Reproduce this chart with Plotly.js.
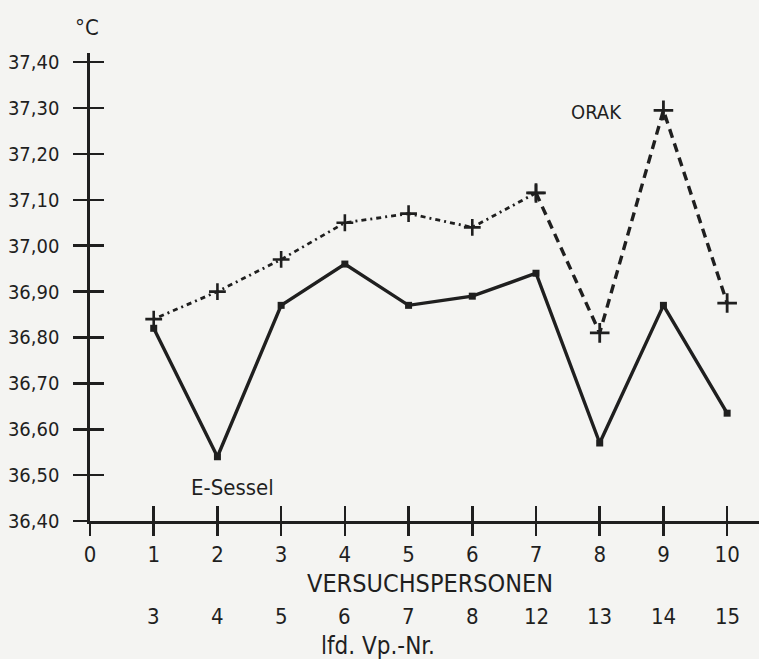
<!DOCTYPE html>
<html>
<head>
<meta charset="utf-8">
<script src="https://cdn.plot.ly/plotly-3.0.1.min.js"></script>
<style>
  html, body { margin: 0; padding: 0; background: #f4f4f2; }
  #chart { width: 759px; height: 659px; }
</style>
</head>
<body>
<div id="chart"></div>
<script>
// ---- data ----
const versuchspersonen = [1, 2, 3, 4, 5, 6, 7, 8, 9, 10];
const vpNr = ['3', '4', '5', '6', '7', '8', '12', '13', '14', '15'];
const eSessel = [36.82, 36.54, 36.87, 36.96, 36.87, 36.89, 36.94, 36.57, 36.87, 36.635];
const orak = [36.84, 36.90, 36.97, 37.05, 37.07, 37.04, 37.115, 36.81, 37.295, 36.875];
const yTicks = [36.40, 36.50, 36.60, 36.70, 36.80, 36.90, 37.00, 37.10, 37.20, 37.30, 37.40];
const xTicks = [0, 1, 2, 3, 4, 5, 6, 7, 8, 9, 10];

const ink = '#1f1f1f';
const FONT = 'DejaVu Sans Condensed, DejaVu Sans, sans-serif';

const splitIdx = 6; // ORAK: dotted up to Vp 7, dashed afterwards
const traces = [
  {
    x: versuchspersonen, y: eSessel, type: 'scatter', mode: 'lines+markers',
    line: { color: ink, width: 3.4 },
    marker: { symbol: 'square', size: 7, color: ink },
    hoverinfo: 'skip', showlegend: false
  },
  {
    x: versuchspersonen.slice(0, splitIdx + 1), y: orak.slice(0, splitIdx + 1),
    type: 'scatter', mode: 'lines+markers',
    line: { color: ink, width: 2.8, dash: '2px,4px,5px,4px' },
    marker: { symbol: 'cross-thin', size: 12, line: { color: ink, width: 2.6 } },
    hoverinfo: 'skip', showlegend: false
  },
  {
    x: versuchspersonen.slice(splitIdx), y: orak.slice(splitIdx),
    type: 'scatter', mode: 'lines+markers',
    line: { color: ink, width: 3.4, dash: '9px,6px' },
    marker: { symbol: 'cross-thin', size: 14, line: { color: ink, width: 2.8 } },
    hoverinfo: 'skip', showlegend: false
  },
  {
    x: [versuchspersonen[0]], y: [eSessel[0]], xaxis: 'x2', yaxis: 'y2',
    type: 'scatter', mode: 'markers', opacity: 0, hoverinfo: 'skip', showlegend: false
  }
];

const xr = [0, 10.5];
const yr = [36.4, 37.42];

const annotations = [];
versuchspersonen.forEach((v, i) => {
  annotations.push({
    x: v, y: -0.205, xref: 'x', yref: 'paper', text: vpNr[i], showarrow: false,
    font: { family: FONT, size: 22, color: ink }, xanchor: 'center', yanchor: 'middle'
  });
});
annotations.push(
  { x: 5.34, y: -0.1325, xref: 'x', yref: 'paper', text: 'VERSUCHSPERSONEN', showarrow: false,
    font: { family: FONT, size: 25, color: ink }, xanchor: 'center', yanchor: 'middle' },
  { x: 4.52, y: -0.268, xref: 'x', yref: 'paper', text: 'lfd. Vp.-Nr.', showarrow: false,
    font: { family: FONT, size: 24, color: ink }, xanchor: 'center', yanchor: 'middle' },
  { x: -0.004, y: 1.055, xref: 'paper', yref: 'paper', text: '°C', showarrow: false,
    font: { family: FONT, size: 22, color: ink }, xanchor: 'center', yanchor: 'middle' },
  { x: 2.24, y: 36.474, xref: 'x', yref: 'y', text: 'E-Sessel', showarrow: false,
    font: { family: FONT, size: 22, color: ink }, xanchor: 'center', yanchor: 'middle' },
  { x: 7.95, y: 37.291, xref: 'x', yref: 'y', text: 'ORAK', showarrow: false,
    font: { family: FONT, size: 20, color: ink }, xanchor: 'center', yanchor: 'middle' }
);

const layout = {
  width: 759, height: 659,
  margin: { l: 90, r: 0, t: 53, b: 138 },
  paper_bgcolor: '#f4f4f2', plot_bgcolor: '#f4f4f2',
  showlegend: false,
  xaxis: {
    range: xr, showgrid: false, zeroline: false,
    showline: true, linecolor: ink, linewidth: 2.6,
    tickmode: 'array', tickvals: xTicks, ticktext: xTicks.map(String),
    ticks: 'outside', ticklen: 12, tickwidth: 2.6, tickcolor: ink,
    ticklabelstandoff: 0,
    tickfont: { family: FONT, size: 22, color: ink }
  },
  yaxis: {
    range: yr, showgrid: false, zeroline: false,
    showline: true, linecolor: ink, linewidth: 2.6,
    tickmode: 'array', tickvals: yTicks, ticktext: yTicks.map(v => v.toFixed(2).replace('.', ',')),
    ticks: 'outside', ticklen: 14, tickwidth: 2.6, tickcolor: ink,
    ticklabelstandoff: 10,
    tickfont: { family: FONT, size: 20, color: ink }
  },
  xaxis2: {
    range: xr, overlaying: 'x', anchor: 'y2', side: 'bottom',
    showgrid: false, zeroline: false, showline: false, showticklabels: false,
    tickmode: 'array', tickvals: xTicks.slice(1),
    ticks: 'inside', ticklen: 15, tickwidth: 2.6, tickcolor: ink
  },
  yaxis2: {
    range: yr, overlaying: 'y', anchor: 'x2', side: 'left',
    showgrid: false, zeroline: false, showline: false, showticklabels: false,
    tickmode: 'array', tickvals: yTicks.slice(1),
    ticks: 'inside', ticklen: 14, tickwidth: 2.6, tickcolor: ink
  },
  annotations: annotations
};

Plotly.newPlot('chart', traces, layout, { displayModeBar: false, staticPlot: true });
</script>
</body>
</html>
